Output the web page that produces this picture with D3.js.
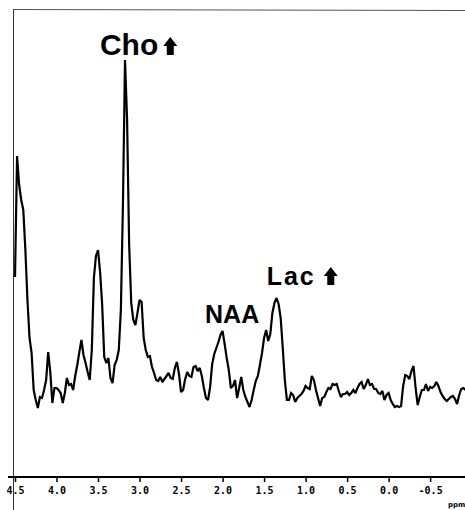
<!DOCTYPE html>
<html>
<head>
<meta charset="utf-8">
<script src="https://cdn.jsdelivr.net/npm/d3@7"></script>
<style>
  html, body { margin: 0; padding: 0; background: #fff; }
  svg { display: block; }
</style>
</head>
<body>
<svg id="chart" width="465" height="510"></svg>
<script>
// chemical shift grid (ppm)
const ppm = [
  4.5,4.475,4.45,4.425,4.4,4.375,4.35,4.325,
  4.3,4.275,4.25,4.225,4.2,4.175,4.15,4.125,
  4.1,4.075,4.05,4.025,4.0,3.975,3.95,3.925,
  3.9,3.875,3.85,3.825,3.8,3.775,3.75,3.725,
  3.7,3.675,3.65,3.625,3.6,3.575,3.55,3.525,
  3.5,3.475,3.45,3.425,3.4,3.375,3.35,3.325,
  3.3,3.275,3.25,3.225,3.2,3.175,3.15,3.125,
  3.1,3.075,3.05,3.025,3.0,2.975,2.95,2.925,
  2.9,2.875,2.85,2.825,2.8,2.775,2.75,2.725,
  2.7,2.675,2.65,2.625,2.6,2.575,2.55,2.525,
  2.5,2.475,2.45,2.425,2.4,2.375,2.35,2.325,
  2.3,2.275,2.25,2.225,2.2,2.175,2.15,2.125,
  2.1,2.075,2.05,2.025,2.0,1.975,1.95,1.925,
  1.9,1.875,1.85,1.825,1.8,1.775,1.75,1.725,
  1.7,1.675,1.65,1.625,1.6,1.575,1.55,1.525,
  1.5,1.475,1.45,1.425,1.4,1.375,1.35,1.325,
  1.3,1.275,1.25,1.225,1.2,1.175,1.15,1.125,
  1.1,1.075,1.05,1.025,1.0,0.975,0.95,0.925,
  0.9,0.875,0.85,0.825,0.8,0.775,0.75,0.725,
  0.7,0.675,0.65,0.625,0.6,0.575,0.55,0.525,
  0.5,0.475,0.45,0.425,0.4,0.375,0.35,0.325,
  0.3,0.275,0.25,0.225,0.2,0.175,0.15,0.125,
  0.1,0.075,0.05,0.025,0.0,-0.025,-0.05,-0.075,
  -0.1,-0.125,-0.15,-0.175,-0.2,-0.225,-0.25,-0.275,
  -0.3,-0.325,-0.35,-0.375,-0.4,-0.425,-0.45,-0.475,
  -0.5,-0.525,-0.55,-0.575,-0.6,-0.625,-0.65,-0.675,
  -0.7,-0.725,-0.75,-0.775,-0.8,-0.825,-0.85,-0.875,
  -0.9,-0.925
];

// signal intensity (arbitrary units)
const intensity = [
  200,321,292,277,267,227,177,139,
  124,87,77,69,80,79,87,97,
  125,105,74,89,89,87,84,74,
  84,99,92,93,87,101,112,125,
  137,122,114,105,97,127,199,221,
  227,205,172,120,114,119,99,94,
  112,117,127,167,272,417,357,232,
  174,157,152,164,177,175,139,127,
  120,121,110,104,97,96,100,95,
  98,101,104,99,98,109,115,103,
  85,87,98,105,101,100,110,111,
  106,109,101,89,79,77,90,113,
  123,129,135,142,146,133,119,107,
  89,91,97,79,89,100,87,80,
  75,70,77,87,96,101,112,124,
  139,147,136,143,164,174,179,173,
  159,129,97,77,77,84,82,75,
  79,81,83,86,91,89,88,101,
  97,87,79,71,79,80,85,89,
  88,93,92,93,86,80,83,83,
  85,82,84,87,84,89,93,95,
  88,92,98,92,93,88,88,84,
  83,86,77,82,84,77,73,70,
  71,70,71,91,102,101,98,106,
  111,89,72,80,87,87,93,86,
  90,89,91,95,91,85,81,78,
  76,78,80,81,78,73,82,88,
  89,87
];

// axis ticks
const tickValues = [4.5, 4.0, 3.5, 3.0, 2.5, 2.0, 1.5, 1.0, 0.5, 0.0, -0.5];
const tickLabels = ["4.5", "4.0", "3.5", "3.0", "2.5", "2.0", "1.5", "1.0", "0.5", "0.0", "-0.5"];
const axisUnit = "ppm";

// peak annotations
const peakNames = ["Cho", "NAA", "Lac"];
const peakPpm = [3.2, 2.0, 1.3];
const peakRaised = [true, false, true];

const svg = d3.select("#chart");

const x = d3.scaleLinear().domain([4.5, -0.92]).range([15, 465]);
const y = d3.scaleLinear().domain([0, 468]).range([477, 9]);

// frame (top and left)
svg.append("line")
  .attr("x1", 14).attr("x2", 465).attr("y1", 9.5).attr("y2", 10.5)
  .attr("stroke", "#555").attr("stroke-width", 1);
svg.append("line")
  .attr("x1", 13.5).attr("x2", 13.5).attr("y1", 9).attr("y2", 510)
  .attr("stroke", "#333").attr("stroke-width", 1);

// spectrum
const data = ppm.map((p, i) => ({ p, v: intensity[i] }));
const line = d3.line().x(d => x(d.p)).y(d => y(d.v));
svg.append("path")
  .datum(data)
  .attr("d", line)
  .attr("fill", "none")
  .attr("stroke", "#000")
  .attr("stroke-width", 2.2)
  .attr("stroke-linejoin", "miter")
  .attr("stroke-miterlimit", 2);

// x axis
const axis = d3.axisBottom(x)
  .tickValues(tickValues)
  .tickFormat((d, i) => tickLabels[i])
  .tickSizeInner(5)
  .tickSizeOuter(0)
  .tickPadding(5);

const gx = svg.append("g").attr("transform", "translate(0,477)").call(axis);
gx.select(".domain").remove();
gx.append("line")
  .attr("x1", 8).attr("x2", 465).attr("y1", 0).attr("y2", 0)
  .attr("stroke", "#000").attr("stroke-width", 2);
gx.selectAll(".tick line").attr("stroke", "#000").attr("stroke-width", 1.5);
gx.selectAll(".tick text")
  .attr("fill", "#000")
  .style("font-family", "'DejaVu Sans Mono', monospace")
  .style("font-weight", "bold")
  .style("font-size", "10px");

svg.append("text")
  .attr("x", 448).attr("y", 507)
  .style("font-family", "'DejaVu Sans', sans-serif")
  .style("font-weight", "bold")
  .style("font-size", "7px")
  .text(axisUnit);

// annotation layout (offsets from peak anchor)
const layout = [
  { dx: -23, yPix: 55, size: 30, spacing: 0, gap: 5 },
  { dx: -17.5, yPix: 323, size: 25, spacing: 0, gap: 5 },
  { dx: -14, yPix: 285, size: 25, spacing: 2, gap: 8 }
];

peakNames.forEach((name, i) => {
  const L = layout[i];
  const tx = x(peakPpm[i]) + L.dx;
  const t = svg.append("text")
    .attr("x", tx).attr("y", L.yPix)
    .style("font-family", "'Liberation Sans', Arial, sans-serif")
    .style("font-weight", "bold")
    .style("font-size", L.size + "px")
    .style("letter-spacing", L.spacing + "px")
    .attr("fill", "#000")
    .text(name);
  if (peakRaised[i]) {
    const w = t.node().getComputedTextLength();
    const cx = tx + w + L.gap + 7;
    const bottom = L.yPix;
    const top = bottom - 18;
    const mid = top + 9;
    svg.append("path")
      .attr("d", `M${cx},${top} L${cx + 7},${mid} L${cx + 3.5},${mid} L${cx + 3.5},${bottom} L${cx - 3.5},${bottom} L${cx - 3.5},${mid} L${cx - 7},${mid} Z`)
      .attr("fill", "#000");
  }
});
</script>
</body>
</html>
